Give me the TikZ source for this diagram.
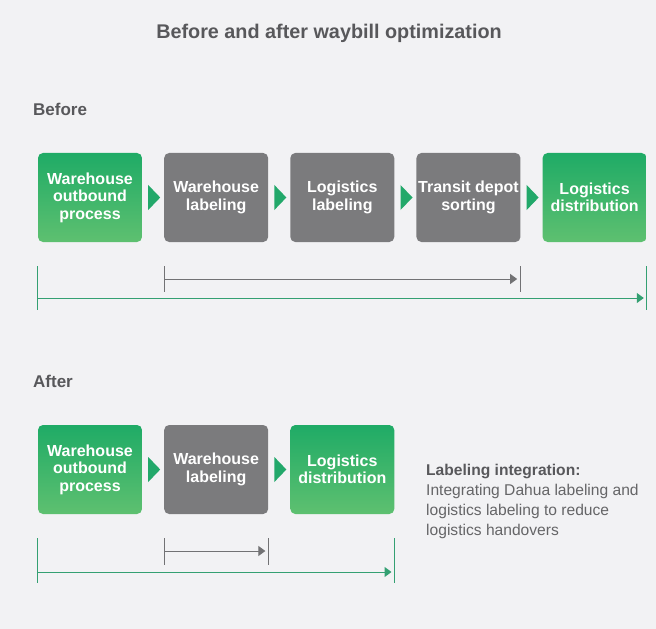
\documentclass[tikz,border=0pt]{standalone}
\usepackage{fontspec}
\setmainfont{Liberation Sans}
\usetikzlibrary{arrows.meta,positioning}

\definecolor{pagebg}{HTML}{F2F2F4}
\definecolor{headgray}{HTML}{58585B}
\definecolor{textgray}{HTML}{656567}
\definecolor{boxgray}{HTML}{7B7B7D}
\definecolor{greentop}{HTML}{1FAB66}
\definecolor{greenbot}{HTML}{5EC070}
\definecolor{tipgreen}{HTML}{22A86A}
\definecolor{linegreen}{HTML}{34A072}
\definecolor{linegray}{HTML}{727274}

\tikzset{
  stage/.style={minimum width=104bp,minimum height=89bp,inner sep=0pt,
    rounded corners=5bp,align=center,text=white,
    font=\fontsize{16bp}{17.5bp}\selectfont\bfseries},
  greenstage/.style={stage,top color=greentop,bottom color=greenbot},
  graystage/.style={stage,fill=boxgray},
  gline/.style={draw=linegreen,line width=1bp},
  hline/.style={draw=linegray,line width=1bp},
  gtip/.style={-{Triangle[length=7bp,width=10bp]},shorten >=3bp},
}

\begin{document}
\begin{tikzpicture}[x=1bp,y=-1bp]
\fill[pagebg] (0,0) rectangle (656,629);
\useasboundingbox (0,0) rectangle (656,629);

\node[text=headgray,font=\fontsize{19.8bp}{22bp}\selectfont\bfseries] (title) at (329,33) {Before and after waybill optimization};
\node[anchor=west,inner sep=0pt,text=headgray,font=\fontsize{17bp}{18bp}\selectfont\bfseries] (before) at (33,109) {Before};
\node[anchor=west,inner sep=0pt,text=headgray,font=\fontsize{17bp}{18bp}\selectfont\bfseries] (after) at (33,381) {After};

% before
\node[greenstage] (b1) at (90,197.5) {Warehouse\\outbound\\process};
\node[graystage,right=21.75bp of b1] (b2) {Warehouse\\labeling};
\node[graystage,right=21.75bp of b2] (b3) {Logistics\\labeling};
\node[graystage,right=21.75bp of b3] (b4) {Transit depot\\sorting};
\node[greenstage,right=21.75bp of b4] (b5) {Logistics\\distribution};

\foreach \a/\b in {b1/b2,b2/b3,b3/b4,b4/b5}
  \fill[tipgreen] ([xshift=6bp,yshift=12.5bp]\a.east) -- ([xshift=18bp]\a.east) -- ([xshift=6bp,yshift=-12.5bp]\a.east) -- cycle;

\draw[gline] (b1.west |- 0,266) -- (b1.west |- 0,310);
\draw[gline] (b5.east |- 0,266) -- (b5.east |- 0,310);
\draw[gline,gtip,fill=linegreen] (b1.west |- 0,298) -- (b5.east |- 0,298);
\draw[hline] ([xshift=1bp]b2.west |- 0,266) -- ([xshift=1bp]b2.west |- 0,292);
\draw[hline] (b4.east |- 0,266) -- (b4.east |- 0,292);
\draw[hline,gtip,shorten >=3.5bp,fill=linegray] ([xshift=1bp]b2.west |- 0,279) -- (b4.east |- 0,279);

% after
\node[greenstage] (a1) at (90,469.5) {Warehouse\\outbound\\process};
\node[graystage,right=21.75bp of a1] (a2) {Warehouse\\labeling};
\node[greenstage,right=21.75bp of a2] (a3) {Logistics\\distribution};

\foreach \a/\b in {a1/a2,a2/a3}
  \fill[tipgreen] ([xshift=6bp,yshift=12.5bp]\a.east) -- ([xshift=18bp]\a.east) -- ([xshift=6bp,yshift=-12.5bp]\a.east) -- cycle;

\draw[gline] (a1.west |- 0,538) -- (a1.west |- 0,583);
\draw[gline] (a3.east |- 0,538) -- (a3.east |- 0,583);
\draw[gline,gtip,fill=linegreen] (a1.west |- 0,572) -- (a3.east |- 0,572);
\draw[hline] ([xshift=1bp]a2.west |- 0,538) -- ([xshift=1bp]a2.west |- 0,565);
\draw[hline] (a2.east |- 0,538) -- (a2.east |- 0,565);
\draw[hline,gtip,fill=linegray] ([xshift=1bp]a2.west |- 0,551) -- (a2.east |- 0,551);

\node[anchor=west,align=left,inner sep=0pt,text=textgray,font=\fontsize{15.6bp}{20bp}\selectfont] (note) at (426,501)
  {\textcolor{headgray}{\bfseries Labeling integration:}\\Integrating Dahua labeling and\\logistics labeling to reduce\\logistics handovers};
\end{tikzpicture}
\end{document}
